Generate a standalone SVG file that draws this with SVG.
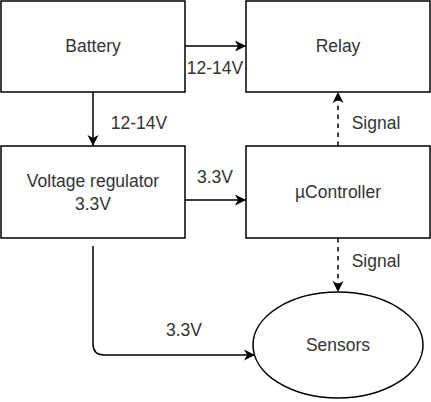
<svg xmlns="http://www.w3.org/2000/svg" width="431" height="402" viewBox="0 0 431 402">
<style>
.box{fill:#ffffff;stroke:#000000;stroke-width:1.5}
.t{font-family:"Liberation Sans",Arial,sans-serif;font-size:17.5px;fill:#333333;text-anchor:middle;dominant-baseline:central}
.c{fill:none;stroke:#000000;stroke-width:1.5}
.d{stroke-dasharray:4.5 4.5}
</style>
<defs>
<marker id="ah" viewBox="0 0 12 12" refX="11" refY="6" markerWidth="12" markerHeight="12" markerUnits="userSpaceOnUse" orient="auto">
<path d="M0,0.5 L11,6 L0,11.5 L3,6 Z" fill="#000000"/>
</marker>
</defs>
<rect width="431" height="402" fill="#ffffff"/>
<g id="battery"><rect class="box" x="1" y="1" width="184" height="91"/><text class="t" x="93" y="46">Battery</text></g>
<g id="relay"><rect class="box" x="246" y="1" width="184" height="91"/><text class="t" x="338" y="46">Relay</text></g>
<g id="regulator"><rect class="box" x="1" y="146" width="184" height="92"/><text class="t" x="93" y="181">Voltage regulator</text><text class="t" x="93" y="204">3.3V</text></g>
<g id="controller"><rect class="box" x="246" y="146" width="184" height="92"/><text class="t" x="338" y="192">µController</text></g>
<g id="sensors"><ellipse class="box" cx="338" cy="345" rx="85" ry="53"/><text class="t" x="338" y="345">Sensors</text></g>
<g id="connectors">
<path class="c" d="M185,46 H246" marker-end="url(#ah)"/>
<text class="t" x="215" y="68">12-14V</text>
<path class="c" d="M93,92 V146" marker-end="url(#ah)"/>
<text class="t" x="139" y="123">12-14V</text>
<path class="c" d="M185,200 H246" marker-end="url(#ah)"/>
<text class="t" x="215" y="177">3.3V</text>
<path class="c d" d="M338,146 V92" marker-end="url(#ah)"/>
<text class="t" x="376" y="123">Signal</text>
<path class="c d" d="M338,238 V292" marker-end="url(#ah)"/>
<text class="t" x="376" y="261">Signal</text>
<path class="c" d="M93,246 V344 Q93,355 104,355 H255" marker-end="url(#ah)"/>
<text class="t" x="184" y="330">3.3V</text>
</g>
</svg>
